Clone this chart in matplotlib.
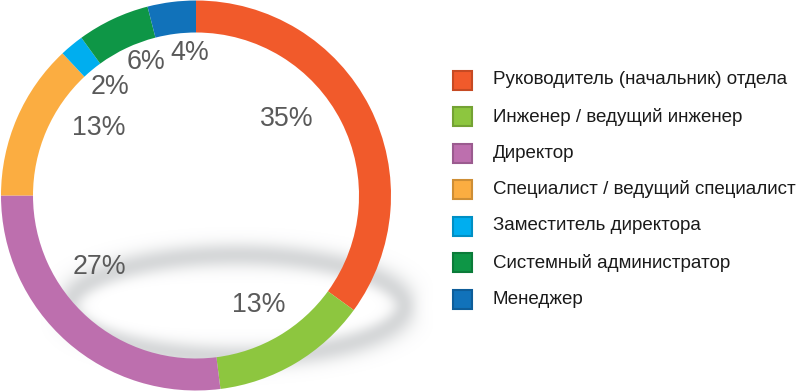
import matplotlib.pyplot as plt
import matplotlib.colors as mcolors
import numpy as np
from matplotlib.patches import Rectangle

plt.rcParams['font.family'] = ['Liberation Sans', 'DejaVu Sans']

# data
categories = ['Руководитель (начальник) отдела', 'Инженер / ведущий инженер',
              'Директор', 'Специалист / ведущий специалист',
              'Заместитель директора', 'Системный администратор', 'Менеджер']
shares = [35, 13, 27, 13, 2, 6, 4]
colors = ['#F15A2B', '#8DC63F', '#BD6FAE', '#FBAD41', '#00AEEF', '#0E9646', '#1172BA']

# label nudges (in units of ring radius), purely cosmetic
label_nudge = [(-0.095, 0.105), (0.0, -0.02), (-0.08, 0.105), (0.08, 0.095),
               (-0.04, 0.07), (0.012, 0.114), (0.048, 0.105)]

W, H = 801, 391
fig = plt.figure(figsize=(W / 100, H / 100), dpi=100)
ax = fig.add_axes([0, 0, 1, 1])

cx, cy, R = 196, H - 195.5, 195

# blurred grey ellipse "shadow" behind the ring
ex, ey, ea, eb = 237, H - 306, 167, 51
xx, yy = np.meshgrid(np.arange(W) + 0.5, np.arange(H) + 0.5)
dx, dy = xx - ex, yy - ey
g = np.sqrt(dx**2 / ea**2 + dy**2 / eb**2)
grad = np.sqrt((dx / ea**2)**2 + (dy / eb**2)**2) / np.maximum(g, 1e-6)
dist = (g - 1) / np.maximum(grad, 1e-6)
alpha = 0.45 * np.exp(-(dist / 13.0)**2)
shadow = np.zeros((H, W, 4))
shadow[..., :3] = mcolors.to_rgb('#a4a8ab')
shadow[..., 3] = alpha
ax.imshow(shadow, extent=(0, W, 0, H), origin='lower', zorder=0, interpolation='bilinear')

wedges, _ = ax.pie(shares, colors=colors, startangle=90, counterclock=False,
                   center=(cx, cy), radius=R,
                   wedgeprops=dict(width=32, linewidth=0))
for w in wedges:
    w.set_zorder(2)

# percentage labels
for w, val, (nx, ny) in zip(wedges, shares, label_nudge):
    mid = np.deg2rad((w.theta1 + w.theta2) / 2)
    r = 0.63 * R
    x = cx + r * np.cos(mid) + nx * R
    y = cy + r * np.sin(mid) + ny * R
    ax.text(x, y, f'{val}%', ha='center', va='center', fontsize=19.3,
            color='#5a5a5a', zorder=3)

# legend
for i, (name, col) in enumerate(zip(categories, colors)):
    yc = H - (80 + i * 36.5)
    edge = tuple(c * 0.82 for c in mcolors.to_rgb(col))
    ax.add_patch(Rectangle((453, yc - 9.5), 19, 19, facecolor=col, edgecolor=edge,
                           linewidth=1.5, zorder=3))
    ax.text(493, yc, name, ha='left', va='center', fontsize=13.5,
            color='#1a1a1a', zorder=3)

ax.set_xlim(0, W)
ax.set_ylim(0, H)
ax.set_aspect('auto')
ax.axis('off')

fig.savefig('out.png', dpi=100)
